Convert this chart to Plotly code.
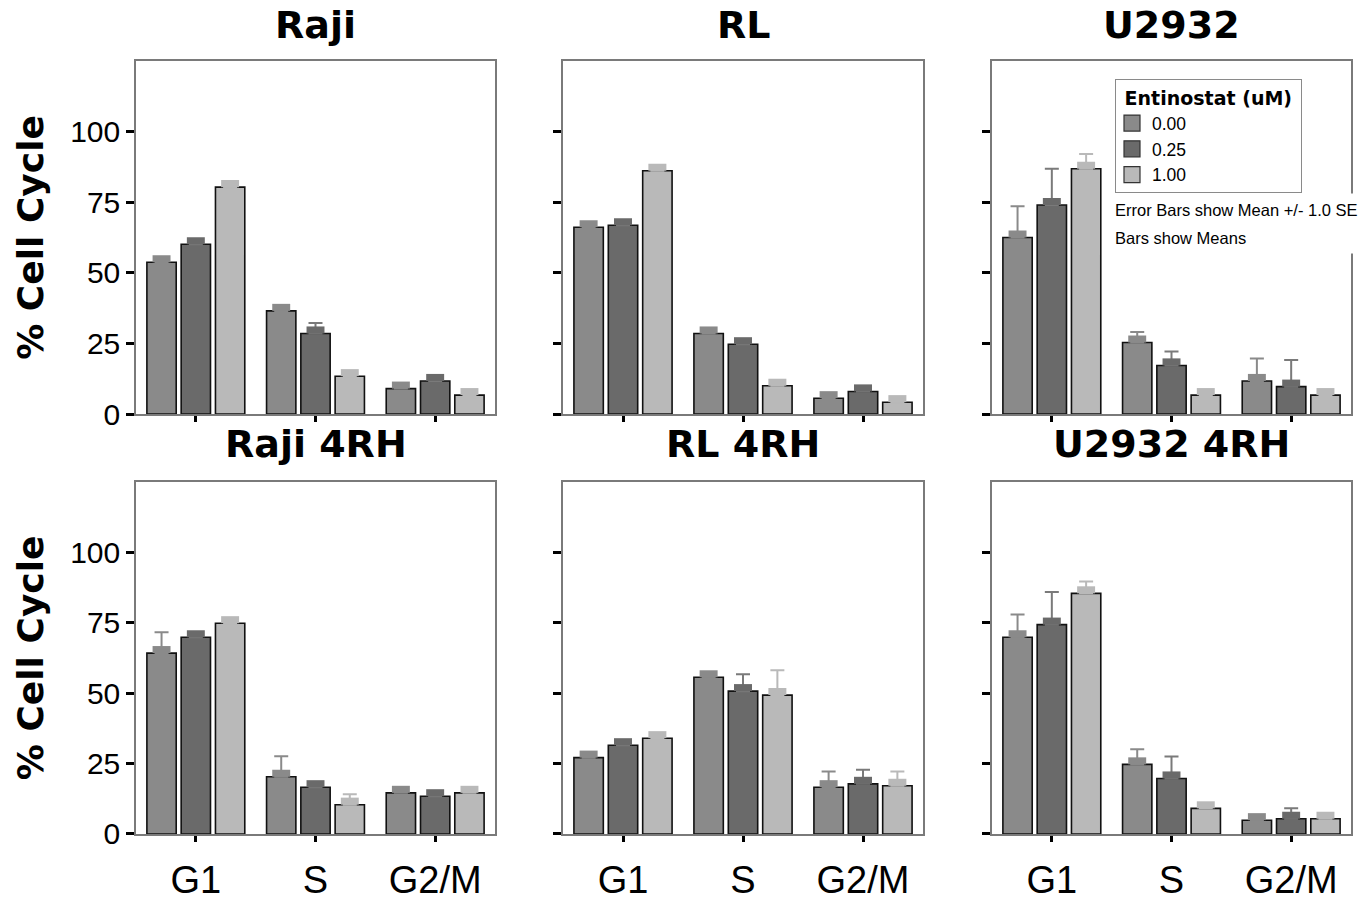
import plotly.graph_objects as go

# ---------------- data ----------------
categories = ["G1", "S", "G2/M"]
doses = ["0.00", "0.25", "1.00"]
panel_titles = ["Raji", "RL", "U2932", "Raji 4RH", "RL 4RH", "U2932 4RH"]

# mean % per dose (rows: 0.00, 0.25, 1.00), columns: G1, S, G2/M
raji_mean = [[53.7, 36.5, 9.0], [60.1, 28.5, 11.7], [80.3, 13.4, 6.7]]
rl_mean = [[66.1, 28.5, 5.6], [66.8, 24.7, 8.0], [86.1, 10.0, 4.2]]
u2932_mean = [[62.5, 25.3, 11.7], [74.0, 17.2, 9.7], [86.8, 6.7, 6.7]]
raji4rh_mean = [[64.2, 20.3, 14.6], [69.8, 16.6, 13.4], [74.8, 10.4, 14.6]]
rl4rh_mean = [[27.1, 55.6, 16.6], [31.5, 50.7, 17.8], [34.0, 49.3, 17.1]]
u2932_4rh_mean = [[69.8, 24.7, 4.9], [74.3, 19.7, 5.4], [85.4, 9.1, 5.4]]

# standard errors
raji_se = [[1.5, 1.5, 1.5], [1.5, 3.7, 1.5], [1.5, 1.5, 1.5]]
rl_se = [[1.5, 1.5, 1.5], [1.5, 1.5, 1.5], [1.5, 1.5, 1.5]]
u2932_se = [[11.0, 3.7, 8.0], [12.8, 4.9, 9.4], [5.2, 1.5, 1.5]]
raji4rh_se = [[7.4, 7.3, 1.5], [1.5, 1.5, 1.5], [1.5, 3.7, 1.5]]
rl4rh_se = [[1.5, 1.5, 5.6], [1.5, 6.0, 5.0], [1.5, 8.8, 5.1]]
u2932_4rh_se = [[8.1, 5.4, 1.5], [11.6, 7.8, 3.7], [4.2, 1.5, 1.5]]

means = [raji_mean, rl_mean, u2932_mean, raji4rh_mean, rl4rh_mean, u2932_4rh_mean]
ses = [raji_se, rl_se, u2932_se, raji4rh_se, rl4rh_se, u2932_4rh_se]

# ---------------- style ----------------
W, H = 1362, 903
fills = ["#8a8a8a", "#6a6a6a", "#b9b9b9"]
err_colors = ["#8a8a8a", "#7a7a7a", "#b9b9b9"]
SANS = "Liberation Sans, Arial, sans-serif"
WIDE = "DejaVu Sans, Liberation Sans, sans-serif"
FRAME = "#7a7a7a"


def px_x(v):
    return v / W


def px_y(v):
    return 1 - v / H


col_px = [(136, 495), (563, 923), (992, 1351)]
row_px = [(62, 422), (491, 850)]
title_shift = [12, 14]

BAR_W = 0.245
STEP = 0.2865
CAP_W = 0.15
CAP_H = 2.5

fig = go.Figure()
layout = dict(
    width=W, height=H,
    margin=dict(l=0, r=0, t=0, b=0),
    paper_bgcolor="white", plot_bgcolor="white",
    barmode="overlay",
    showlegend=True,
)

annotations = []
for p in range(6):
    r, c = divmod(p, 3)
    idx = "" if p == 0 else str(p + 1)
    xa, ya = "x" + idx, "y" + idx
    x0, x1 = col_px[c]
    y0, y1 = row_px[r]
    layout["xaxis" + idx] = dict(
        domain=[px_x(x0), px_x(x1)], anchor=ya, type="category",
        categoryorder="array", categoryarray=categories,
        range=[-0.5, 2.5], showline=True, linecolor=FRAME, linewidth=1.5,
        mirror=True, ticks="outside", ticklen=6, tickwidth=2.5, tickcolor="black",
        showgrid=False, zeroline=False, showticklabels=(r == 1),
        ticklabelstandoff=6,
        tickfont=dict(family=SANS, size=38, color="black"),
    )
    yax = dict(
        domain=[px_y(y1), px_y(y0)], anchor=xa, range=[0, 125],
        tickmode="array", tickvals=[0, 25, 50, 75, 100],
        showline=True, linecolor=FRAME, linewidth=1.5, mirror=True,
        ticks="outside", ticklen=8, tickwidth=2.5, tickcolor="black",
        showgrid=False, zeroline=False, showticklabels=(c == 0),
        tickfont=dict(family=SANS, size=30, color="black"),
    )
    if c == 0:
        yax["title"] = dict(text="% Cell Cycle", standoff=16,
                            font=dict(family=WIDE, size=36, color="black", weight="bold"))
    layout["yaxis" + idx] = yax

    for i, d in enumerate(doses):
        centre = (i - 1) * STEP
        fig.add_trace(go.Bar(
            x=categories, y=means[p][i], xaxis=xa, yaxis=ya,
            width=BAR_W, offset=centre - BAR_W / 2,
            marker=dict(color=fills[i], line=dict(color="#111111", width=1.6)),
            error_y=dict(type="data", array=ses[p][i], arrayminus=[0, 0, 0],
                         symmetric=False, color=err_colors[i], thickness=2, width=7),
            name=d, showlegend=False, hoverinfo="y",
        ))
        fig.add_trace(go.Bar(
            x=categories, y=[CAP_H] * 3, base=means[p][i], xaxis=xa, yaxis=ya,
            width=CAP_W, offset=centre - CAP_W / 2,
            marker=dict(color=fills[i], line=dict(width=0)),
            showlegend=False, hoverinfo="skip",
        ))

    annotations.append(dict(
        text="<b>%s</b>" % panel_titles[p], xref="paper", yref="paper",
        x=(px_x(x0) + px_x(x1)) / 2, y=px_y(y0), xanchor="center", yanchor="bottom",
        yshift=title_shift[r], showarrow=False,
        font=dict(family=WIDE, size=38, color="black"),
    ))

# legend entries
for i, d in enumerate(doses):
    fig.add_trace(go.Scatter(
        x=[None], y=[None], mode="markers", name=d,
        marker=dict(symbol="square", size=16, color=fills[i],
                    line=dict(color="#333333", width=1.2)),
        showlegend=True, hoverinfo="skip",
    ))

layout["legend"] = dict(
    x=px_x(1115), y=px_y(81), xanchor="left", yanchor="top",
    bgcolor="white", bordercolor="#8a8a8a", borderwidth=1,
    font=dict(family=SANS, size=17.5, color="black"),
    title=dict(text="<b>&nbsp;Entinostat (uM)&nbsp;</b>",
               font=dict(family=WIDE, size=19, color="black")),
    itemsizing="trace", tracegroupgap=0, indentation=-4,
)

annotations.append(dict(
    text="Error Bars show Mean +/- 1.0 SE", xref="paper", yref="paper",
    x=px_x(1113), y=px_y(214), xanchor="left", yanchor="middle",
    showarrow=False, align="left", width=247, height=30, bgcolor="white",
    font=dict(family=SANS, size=16.5, color="black"),
))
annotations.append(dict(
    text="Bars show Means", xref="paper", yref="paper",
    x=px_x(1113), y=px_y(243), xanchor="left", yanchor="middle",
    showarrow=False, align="left", width=247, height=28, bgcolor="white",
    font=dict(family=SANS, size=16.5, color="black"),
))
layout["annotations"] = annotations

fig.update_layout(**layout)
fig.write_html(
    "out.html",
    config={"displayModeBar": False},
    post_script="document.body.style.margin='0';document.body.style.padding='0';",
)
